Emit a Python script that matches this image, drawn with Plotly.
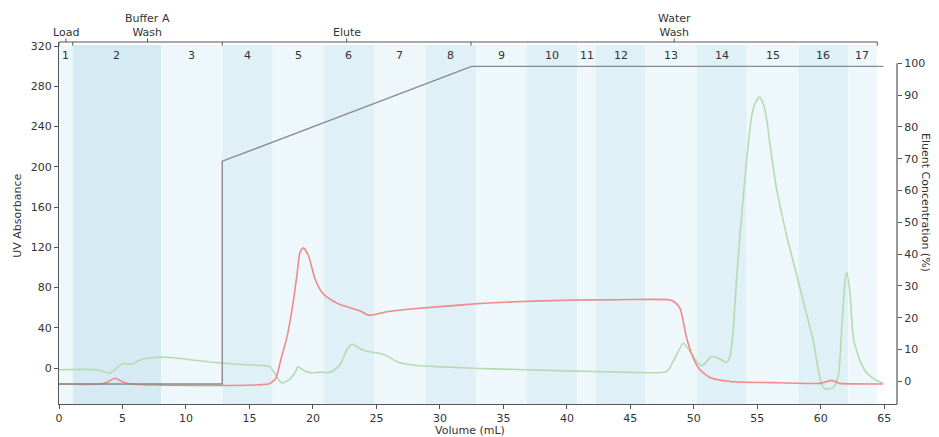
import plotly.graph_objects as go

# ---------------- data ----------------
red_x = [0, 3.2, 3.8, 4.4, 5.0, 5.6, 16.5, 16.8, 17.09, 17.5, 17.93, 18.45, 18.77, 18.98, 19.24, 19.64,
         20.16, 20.69, 21.08, 22.13, 23.31, 23.84, 24.36, 24.89, 25.81, 28.17, 30.79, 33.16, 36.0,
         40.0, 44.0, 48.0, 48.45, 48.91, 49.44, 49.96, 50.48, 51.27, 52.85, 56.79, 59.94, 60.4,
         60.86, 61.3, 61.51, 64.92]
red_y = [-15.8, -15.8, -14, -10, -13.5, -15.8, -15.8, -13.5, -9.9, 10, 29.6, 65.9, 95.5, 115.2, 119.5, 111.9,
         88.9, 75.7, 70.8, 63.2, 58.6, 56.0, 52.7, 53.3, 56.0, 59.3, 61.9, 64.2, 66.0,
         67.5, 68.0, 68.0, 66.0, 59.3, 29.6, 9.9, -1.6, -9.2, -13.2, -14.5, -15.1, -13.5,
         -12.1, -14.2, -15.1, -15.8]

green_x = [0, 2.99, 4.02, 4.54, 5.01, 5.72, 6.38, 7.03, 8.56, 10.05, 12.08, 14.1, 16.1, 16.62, 17.3,
           17.54, 18.12, 18.64, 18.8, 19.43, 19.95, 20.64, 21.16, 21.6, 22.13, 22.66, 23.1, 23.65,
           24.15, 25.18, 25.67, 26.72, 28.17, 30.22, 33.15, 35.0, 44.7, 47.86, 48.5, 49.17, 49.7,
           50.35, 50.67, 51.4, 51.93, 52.58, 52.84, 53.11, 53.37, 53.63, 54.16, 54.55, 54.85, 55.16,
           55.45, 55.7, 56.0, 56.52, 57.31, 57.84, 58.63, 59.42, 59.68, 60.08, 60.34, 61.0, 61.39,
           61.65, 61.92, 62.05, 62.31, 62.57, 63.1, 63.62, 64.28, 64.88]
green_y = [-1.6, -1.6, -4.9, 0.0, 4.6, 3.9, 8.2, 9.9, 10.9, 8.9, 5.9, 3.9, 2.6, 1.3, -11.5,
           -14.8, -11.5, -3.3, 1.3, -3.3, -4.6, -3.9, -4.6, -2.6, 3.3, 18.1, 23.7, 19.8,
           17.1, 14.8, 13.2, 5.9, 2.6, 1.3, -0.3, -1.0, -4.0, -3.3, 9.9, 24.7, 16.5,
           4.9, 2.6, 11.5, 9.9, 5.9, 11.5, 39.5, 88.9, 131.7, 207.4, 250.0, 264.0, 269.3,
           263.0, 250.0, 222.0, 177.8, 131.7, 105.4, 65.9, 26.4, 6.6, -16.5, -20.7, -19.1, -6.6,
           39.5, 88.9, 95.0, 72.4, 29.6, 6.6, -4.9, -11.5, -14.8]

grad_x = [0, 12.86, 12.86, 32.5, 64.92]
grad_y = [-0.8, -0.8, 69.2, 99.0, 99.0]

frac_bounds = [0, 1.08, 8.03, 12.86, 16.83, 20.82, 24.81, 28.85, 32.84, 36.84, 40.82, 42.27,
               46.21, 50.22, 54.16, 58.23, 62.16, 64.4]
frac_labels = [str(i) for i in range(1, 18)]

phase_bounds = [0, 1.08, 12.86, 32.45, 64.45]
phase_labels = ["Load", "Buffer A<br>Wash", "Elute", "Water<br>Wash"]

x_ticks = list(range(0, 70, 5))
y_ticks = list(range(0, 360, 40))
y2_ticks = list(range(0, 110, 10))

# ---------------- figure ----------------
FONT = "DejaVu Sans"
TXT = "#333333"
AX = "#555555"

fig = go.Figure()
fig.add_trace(go.Scatter(x=green_x, y=green_y, mode="lines",
                         line=dict(color="#b5dbb0", width=1.6, shape="spline", smoothing=0.6),
                         hoverinfo="skip", showlegend=False))
fig.add_trace(go.Scatter(x=red_x, y=red_y, mode="lines",
                         line=dict(color="#f08a8a", width=1.6, shape="spline", smoothing=0.6),
                         hoverinfo="skip", showlegend=False))
fig.add_trace(go.Scatter(x=grad_x, y=grad_y, mode="lines", yaxis="y2",
                         line=dict(color="#8a8a8a", width=1.4),
                         hoverinfo="skip", showlegend=False))

shapes = []
for i in range(len(frac_bounds) - 1):
    if i == 1:
        c = "#d5eaf2"
    elif i % 2 == 1:
        c = "#dff0f6"
    else:
        c = "#eef7fb"
    shapes.append(dict(type="rect", xref="x", yref="paper", x0=frac_bounds[i], x1=frac_bounds[i + 1],
                       y0=0, y1=0.992, fillcolor=c, line=dict(width=0), layer="below"))

# header line with ticks
shapes.append(dict(type="line", xref="x", yref="paper", x0=phase_bounds[0], x1=phase_bounds[-1],
                   y0=1, y1=1, line=dict(color=AX, width=1.2)))
for b in phase_bounds:
    shapes.append(dict(type="line", xref="x", yref="paper", x0=b, x1=b, y0=1, y1=0.99,
                       line=dict(color=AX, width=1)))
for i in range(len(phase_bounds) - 1):
    c = (phase_bounds[i] + phase_bounds[i + 1]) / 2
    shapes.append(dict(type="line", xref="x", yref="paper", x0=c, x1=c, y0=1, y1=1.01,
                       line=dict(color=AX, width=1)))

# right spine
shapes.append(dict(type="line", xref="paper", yref="y2", x0=1, x1=1, y0=-7.1, y1=100,
                   line=dict(color=AX, width=1.2)))

annotations = []
for i, lab in enumerate(frac_labels):
    annotations.append(dict(x=(frac_bounds[i] + frac_bounds[i + 1]) / 2, y=0.9615, xref="x", yref="paper",
                            text=lab, showarrow=False, font=dict(family=FONT, size=11, color=TXT),
                            xanchor="center", yanchor="middle"))
for i, lab in enumerate(phase_labels):
    annotations.append(dict(x=(phase_bounds[i] + phase_bounds[i + 1]) / 2, y=1, xref="x", yref="paper",
                            text=lab, showarrow=False, font=dict(family=FONT, size=11, color=TXT),
                            xanchor="center", yanchor="bottom", yshift=1))

annotations.append(dict(x=0.49, y=0, xref="paper", yref="paper", text="Volume (mL)", showarrow=False,
                        font=dict(family=FONT, size=11, color=TXT), xanchor="center", yanchor="middle",
                        yshift=-26))
annotations.append(dict(x=0, y=0.52, xref="paper", yref="paper", text="UV Absorbance", showarrow=False,
                        font=dict(family=FONT, size=11, color=TXT), textangle=-90,
                        xanchor="center", yanchor="middle", xshift=-41))
annotations.append(dict(x=1, y=0.558, xref="paper", yref="paper", text="Eluent Concentration (%)",
                        showarrow=False, font=dict(family=FONT, size=11, color=TXT), textangle=90,
                        xanchor="center", yanchor="middle", xshift=29))

# page body has an 8px margin: shift the figure so the plot area lands where the reference has it
fig.update_layout(
    width=931, height=429,
    margin=dict(l=51, r=42, t=34, b=31, pad=0),
    paper_bgcolor="white", plot_bgcolor="white",
    font=dict(family=FONT, size=11, color=TXT),
    shapes=shapes, annotations=annotations,
    xaxis=dict(range=[0, 66], tickvals=x_ticks, showgrid=False, zeroline=False,
               showline=True, linecolor=AX, linewidth=1.2, ticks="outside", ticklen=4,
               tickcolor=AX, tickfont=dict(family=FONT, size=11, color=TXT)),
    yaxis=dict(range=[-35.6, 324], tickvals=y_ticks, showgrid=False, zeroline=False,
               showline=True, linecolor=AX, linewidth=1.2, ticks="outside", ticklen=4,
               tickcolor=AX, tickfont=dict(family=FONT, size=11, color=TXT)),
    yaxis2=dict(range=[-7.1, 106.66], tickvals=y2_ticks, overlaying="y", side="right",
                showgrid=False, zeroline=False, showline=False, ticks="outside", ticklen=4,
                tickcolor=AX, tickfont=dict(family=FONT, size=11, color=TXT)),
)

fig.write_html("out.html")
